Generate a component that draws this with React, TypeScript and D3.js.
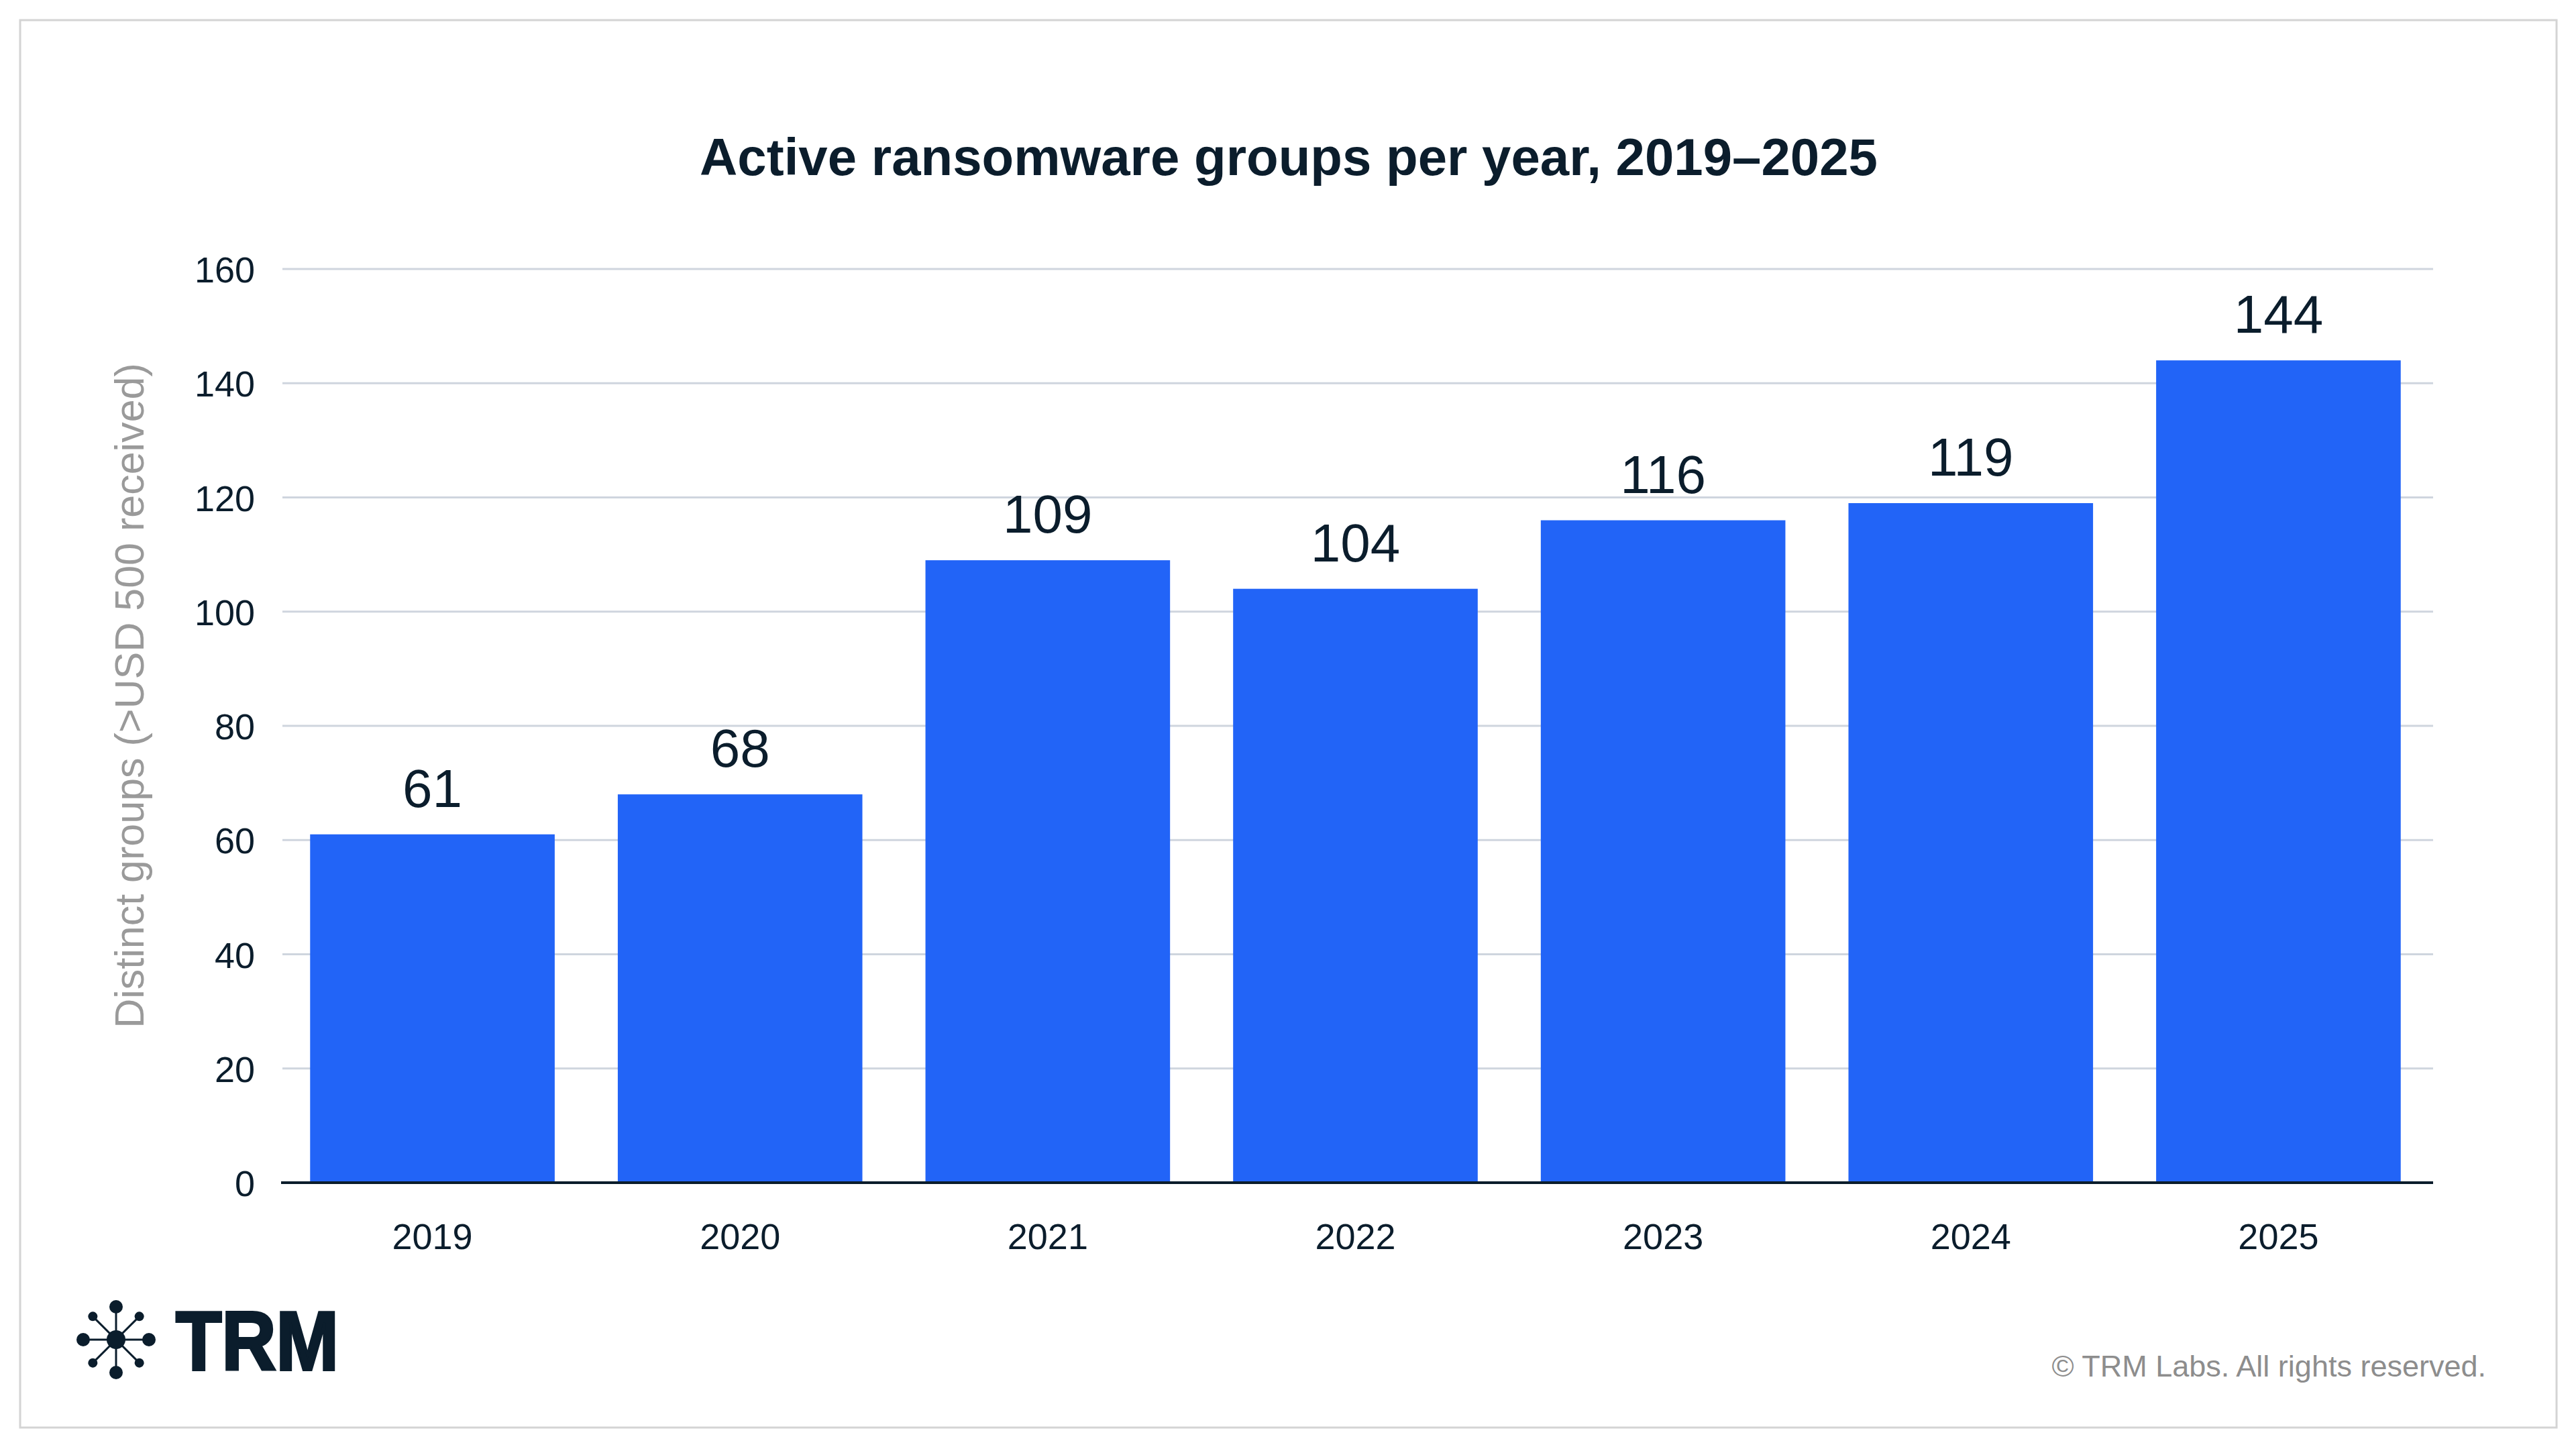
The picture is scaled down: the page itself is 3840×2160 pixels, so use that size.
import React, { useEffect } from "react";
import * as d3 from "d3";

const years = ["2019", "2020", "2021", "2022", "2023", "2024", "2025"];
const groups = [61, 68, 109, 104, 116, 119, 144];
const yTicks = [0, 20, 40, 60, 80, 100, 120, 140, 160];

const title = "Active ransomware groups per year, 2019–2025";
const yLabel = "Distinct groups (>USD 500 received)";
const footer = "© TRM Labs. All rights reserved.";

const WIDTH = 3840;
const HEIGHT = 2160;
const INK = "#0b1d2c";
const FONT = "'Liberation Sans', Arial, Helvetica, sans-serif";

export default function App() {
  const svgRef = React.useRef(null);

  useEffect(() => {
    const svg = d3.select(svgRef.current);
    svg.selectAll("*").remove();

    const xScale = d3
      .scaleBand()
      .domain(years)
      .range([421, 3620])
      .paddingInner(0.205)
      .paddingOuter(0.09);

    const yScale = d3.scaleLinear().domain([0, 160]).range([1763, 401]);

    // frame
    svg
      .append("rect")
      .attr("x", 30)
      .attr("y", 30)
      .attr("width", 3781)
      .attr("height", 2098)
      .attr("fill", "#fff")
      .attr("stroke", "#d4d4d4")
      .attr("stroke-width", 3);

    svg
      .append("text")
      .attr("x", 1921)
      .attr("y", 261)
      .attr("text-anchor", "middle")
      .attr("fill", INK)
      .style("font-family", FONT)
      .style("font-weight", 700)
      .style("font-size", "78px")
      .text(title);

    // grid
    svg
      .append("g")
      .selectAll("line")
      .data(yTicks.filter((d) => d > 0))
      .enter()
      .append("line")
      .attr("x1", 421)
      .attr("x2", 3627)
      .attr("y1", (d) => yScale(d))
      .attr("y2", (d) => yScale(d))
      .attr("stroke", "#cfd5de")
      .attr("stroke-width", 3);

    svg
      .append("g")
      .selectAll("text")
      .data(yTicks)
      .enter()
      .append("text")
      .attr("x", 380)
      .attr("y", (d) => yScale(d) + 20)
      .attr("text-anchor", "end")
      .attr("fill", INK)
      .style("font-family", FONT)
      .style("font-size", "54px")
      .text((d) => d);

    svg
      .append("text")
      .attr("transform", "translate(214,1037) rotate(-90)")
      .attr("text-anchor", "middle")
      .attr("fill", "#9a9a9a")
      .style("font-family", FONT)
      .style("font-size", "61px")
      .text(yLabel);

    const data = years.map((y, i) => ({ year: y, value: groups[i] }));

    svg
      .append("g")
      .selectAll("rect")
      .data(data)
      .enter()
      .append("rect")
      .attr("x", (d) => xScale(d.year))
      .attr("y", (d) => yScale(d.value))
      .attr("width", xScale.bandwidth())
      .attr("height", (d) => yScale(0) - yScale(d.value))
      .attr("fill", "#2264f7");

    svg
      .append("g")
      .selectAll("text")
      .data(data)
      .enter()
      .append("text")
      .attr("x", (d) => xScale(d.year) + xScale.bandwidth() / 2)
      .attr("y", (d) => yScale(d.value) - 41)
      .attr("text-anchor", "middle")
      .attr("fill", INK)
      .style("font-family", FONT)
      .style("font-size", "80px")
      .text((d) => d.value);

    // baseline
    svg
      .append("line")
      .attr("x1", 419)
      .attr("x2", 3627)
      .attr("y1", yScale(0))
      .attr("y2", yScale(0))
      .attr("stroke", INK)
      .attr("stroke-width", 4);

    svg
      .append("g")
      .selectAll("text")
      .data(years)
      .enter()
      .append("text")
      .attr("x", (d) => xScale(d) + xScale.bandwidth() / 2)
      .attr("y", 1862)
      .attr("text-anchor", "middle")
      .attr("fill", INK)
      .style("font-family", FONT)
      .style("font-size", "54px")
      .text((d) => d);

    // logo
    const logo = svg.append("g").attr("transform", "translate(173,1997)");
    const angles = d3.range(8).map((i) => (i * Math.PI) / 4);
    logo
      .selectAll("line")
      .data(angles)
      .enter()
      .append("line")
      .attr("x1", 0)
      .attr("y1", 0)
      .attr("x2", (a) => Math.cos(a) * 49)
      .attr("y2", (a) => Math.sin(a) * 49)
      .attr("stroke", INK)
      .attr("stroke-width", 3);
    logo
      .selectAll("circle.node")
      .data(angles)
      .enter()
      .append("circle")
      .attr("class", "node")
      .attr("cx", (a) => Math.cos(a) * 49)
      .attr("cy", (a) => Math.sin(a) * 49)
      .attr("r", (a, i) => (i % 2 === 0 ? 10 : 7))
      .attr("fill", INK);
    logo.append("circle").attr("r", 14).attr("fill", INK);

    svg
      .append("text")
      .attr("x", 262)
      .attr("y", 2042)
      .attr("textLength", 243)
      .attr("lengthAdjust", "spacingAndGlyphs")
      .attr("fill", INK)
      .attr("stroke", INK)
      .attr("stroke-width", 4)
      .style("font-family", FONT)
      .style("font-weight", 700)
      .style("font-size", "124px")
      .text("TRM");

    svg
      .append("text")
      .attr("x", 3706)
      .attr("y", 2052)
      .attr("text-anchor", "end")
      .attr("fill", "#8d8d8d")
      .style("font-family", FONT)
      .style("font-size", "45px")
      .text(footer);
  }, []);

  return (
    <div style={{ position: "absolute", left: 0, top: 0, background: "#fff" }}>
      <svg ref={svgRef} width={WIDTH} height={HEIGHT} style={{ display: "block" }} />
    </div>
  );
}
